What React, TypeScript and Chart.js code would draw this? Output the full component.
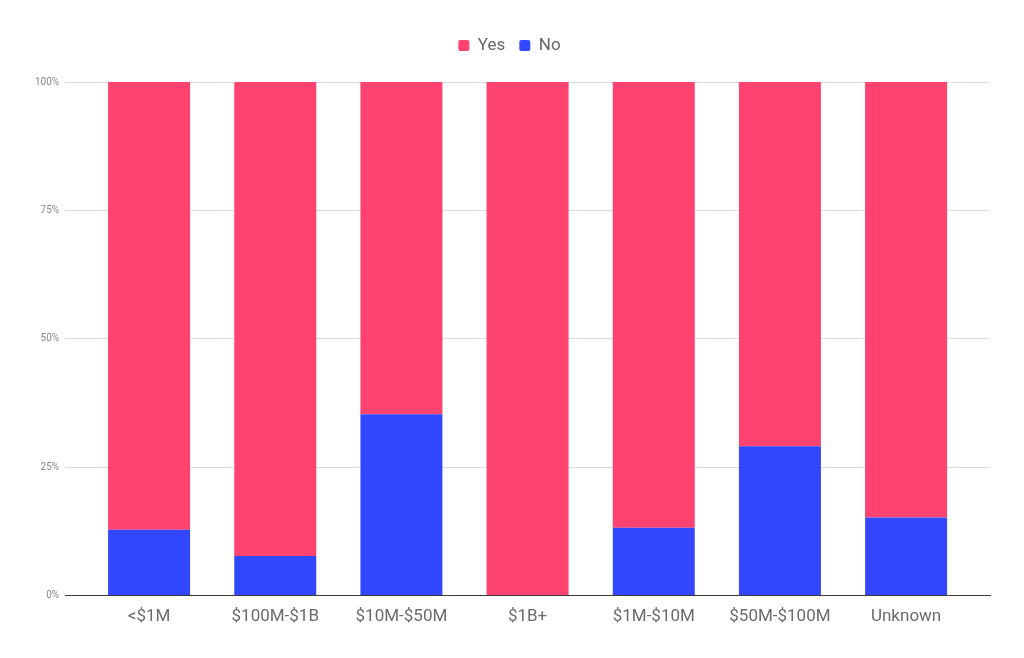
import React, { useEffect, useRef } from "react";
import { Chart, registerables } from "chart.js";

Chart.register(...registerables);

const categories = ["<$1M", "$100M-$1B", "$10M-$50M", "$1B+", "$1M-$10M", "$50M-$100M", "Unknown"];
const noValues = [12.8, 7.7, 35.3, 0, 13.2, 29.1, 15.2];
const yesValues = noValues.map((v) => 100 - v);
const yTicks = [0, 25, 50, 75, 100];

export default function App() {
  const ref = useRef<HTMLCanvasElement | null>(null);
  useEffect(() => {
    if (!ref.current) return;
    const chart = new Chart(ref.current, {
      type: "bar",
      data: {
        labels: categories,
        datasets: [
          { label: "No", data: noValues, backgroundColor: "#3347ff", stack: "s" },
          { label: "Yes", data: yesValues, backgroundColor: "#ff4370", stack: "s" },
        ],
      },
      options: {
        animation: false,
        responsive: false,
        maintainAspectRatio: false,
        layout: { padding: { left: 29, right: 34, top: 23, bottom: 20 } },
        datasets: { bar: { barPercentage: 0.65, categoryPercentage: 1 } },
        plugins: {
          tooltip: { enabled: false },
          legend: {
            position: "top",
            reverse: true,
            labels: {
              boxWidth: 11,
              boxHeight: 11,
              useBorderRadius: true,
              borderRadius: 2,
              color: "#666",
              font: { family: "Roboto", size: 17 },
              padding: 14,
            },
          },
        },
        scales: {
          x: {
            stacked: true,
            grid: { display: false, drawTicks: false },
            border: { display: true, color: "#3a3a3a", width: 1 },
            ticks: { color: "#6b6b6b", font: { family: "Roboto", size: 17 }, padding: 11 },
            afterBuildTicks: (axis: any) => {
              const extra = 0.165;
              axis._startValue = axis._startValue - extra;
              axis._valueRange = axis._valueRange + extra * 2;
            },
          },
          y: {
            stacked: true,
            min: 0,
            max: 100,
            afterBuildTicks: (axis: any) => {
              axis.ticks = yTicks.map((v) => ({ value: v }));
            },
            grid: { color: "#dcdcdc", drawTicks: false },
            border: { display: false },
            ticks: {
              color: "#888",
              font: { family: "Roboto", size: 10 },
              padding: 6,
              callback: (v: any) => v + "%",
            },
          },
        },
      },
      plugins: [
        {
          id: "legendSpace",
          beforeInit: (c: any) => {
            const lg = c.legend;
            if (!lg) return;
            const orig = lg.fit;
            lg.fit = function () {
              orig.call(this);
              this.height += 18;
            };
          },
        },
        {
          id: "bg",
          beforeDraw: (c: any) => {
            const ctx = c.ctx;
            ctx.save();
            ctx.fillStyle = "#fff";
            ctx.fillRect(0, 0, c.width, c.height);
            ctx.restore();
          },
        },
      ],
    });
    return () => chart.destroy();
  }, []);
  return (
    <div style={{ position: "fixed", left: 0, top: 0, width: 1024, height: 658, background: "#fff" }}>
      <canvas ref={ref} width={1024} height={658} style={{ width: 1024, height: 658 }} />
    </div>
  );
}
